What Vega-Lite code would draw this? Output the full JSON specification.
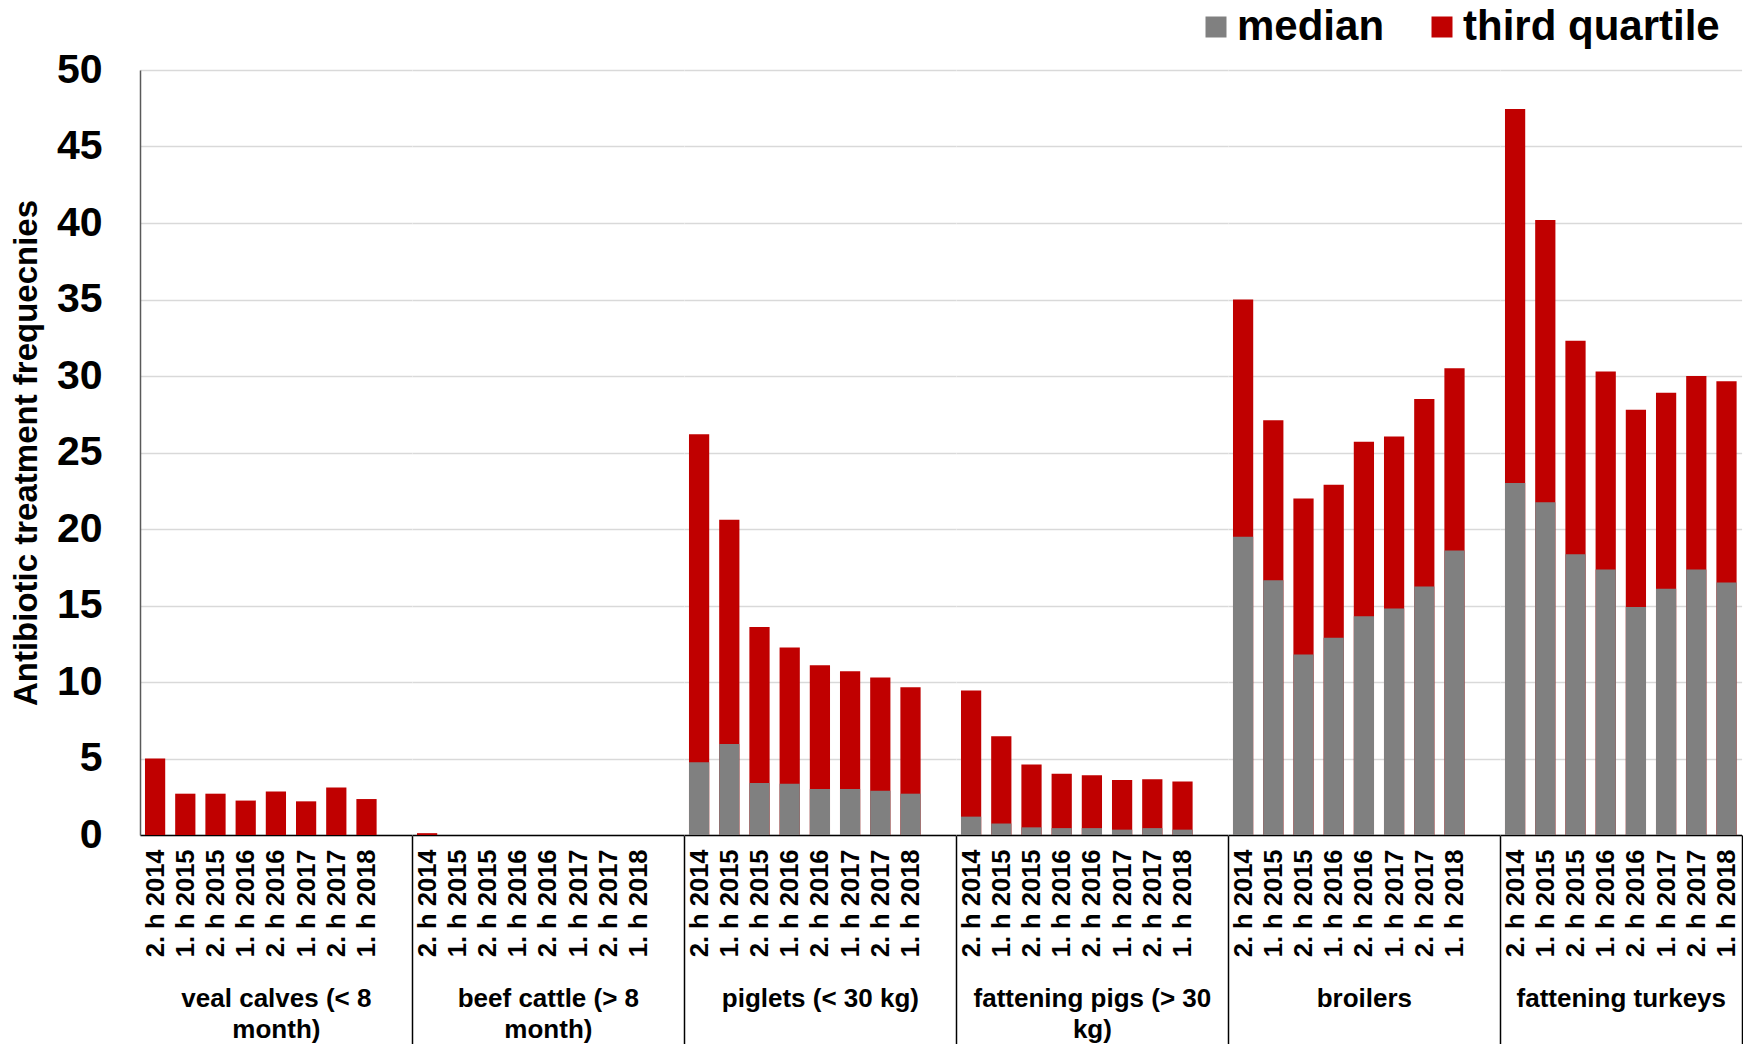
{
  "$schema": "https://vega.github.io/schema/vega-lite/v6.json",
  "background": "white",
  "padding": {"left": 10, "top": 6, "right": 0, "bottom": 0},
  "data": {"values": [
    {"group": "veal calves (< 8 month)", "period": "2. h 2014", "measure": "third quartile", "value": 5.0},
    {"group": "veal calves (< 8 month)", "period": "1. h 2015", "measure": "third quartile", "value": 2.7},
    {"group": "veal calves (< 8 month)", "period": "2. h 2015", "measure": "third quartile", "value": 2.7},
    {"group": "veal calves (< 8 month)", "period": "1. h 2016", "measure": "third quartile", "value": 2.25},
    {"group": "veal calves (< 8 month)", "period": "2. h 2016", "measure": "third quartile", "value": 2.85},
    {"group": "veal calves (< 8 month)", "period": "1. h 2017", "measure": "third quartile", "value": 2.2},
    {"group": "veal calves (< 8 month)", "period": "2. h 2017", "measure": "third quartile", "value": 3.1},
    {"group": "veal calves (< 8 month)", "period": "1. h 2018", "measure": "third quartile", "value": 2.35},
    {"group": "beef cattle (> 8 month)", "period": "2. h 2014", "measure": "third quartile", "value": 0.12},
    {"group": "beef cattle (> 8 month)", "period": "1. h 2015", "measure": "third quartile", "value": 0},
    {"group": "beef cattle (> 8 month)", "period": "2. h 2015", "measure": "third quartile", "value": 0},
    {"group": "beef cattle (> 8 month)", "period": "1. h 2016", "measure": "third quartile", "value": 0},
    {"group": "beef cattle (> 8 month)", "period": "2. h 2016", "measure": "third quartile", "value": 0},
    {"group": "beef cattle (> 8 month)", "period": "1. h 2017", "measure": "third quartile", "value": 0},
    {"group": "beef cattle (> 8 month)", "period": "2. h 2017", "measure": "third quartile", "value": 0},
    {"group": "beef cattle (> 8 month)", "period": "1. h 2018", "measure": "third quartile", "value": 0},
    {"group": "piglets (< 30 kg)", "period": "2. h 2014", "measure": "third quartile", "value": 26.2},
    {"group": "piglets (< 30 kg)", "period": "1. h 2015", "measure": "third quartile", "value": 20.6},
    {"group": "piglets (< 30 kg)", "period": "2. h 2015", "measure": "third quartile", "value": 13.6},
    {"group": "piglets (< 30 kg)", "period": "1. h 2016", "measure": "third quartile", "value": 12.25},
    {"group": "piglets (< 30 kg)", "period": "2. h 2016", "measure": "third quartile", "value": 11.1},
    {"group": "piglets (< 30 kg)", "period": "1. h 2017", "measure": "third quartile", "value": 10.7},
    {"group": "piglets (< 30 kg)", "period": "2. h 2017", "measure": "third quartile", "value": 10.3},
    {"group": "piglets (< 30 kg)", "period": "1. h 2018", "measure": "third quartile", "value": 9.65},
    {"group": "fattening pigs (> 30 kg)", "period": "2. h 2014", "measure": "third quartile", "value": 9.45},
    {"group": "fattening pigs (> 30 kg)", "period": "1. h 2015", "measure": "third quartile", "value": 6.45},
    {"group": "fattening pigs (> 30 kg)", "period": "2. h 2015", "measure": "third quartile", "value": 4.6},
    {"group": "fattening pigs (> 30 kg)", "period": "1. h 2016", "measure": "third quartile", "value": 4.0},
    {"group": "fattening pigs (> 30 kg)", "period": "2. h 2016", "measure": "third quartile", "value": 3.9},
    {"group": "fattening pigs (> 30 kg)", "period": "1. h 2017", "measure": "third quartile", "value": 3.6},
    {"group": "fattening pigs (> 30 kg)", "period": "2. h 2017", "measure": "third quartile", "value": 3.65},
    {"group": "fattening pigs (> 30 kg)", "period": "1. h 2018", "measure": "third quartile", "value": 3.5},
    {"group": "broilers", "period": "2. h 2014", "measure": "third quartile", "value": 35.0},
    {"group": "broilers", "period": "1. h 2015", "measure": "third quartile", "value": 27.1},
    {"group": "broilers", "period": "2. h 2015", "measure": "third quartile", "value": 22.0},
    {"group": "broilers", "period": "1. h 2016", "measure": "third quartile", "value": 22.9},
    {"group": "broilers", "period": "2. h 2016", "measure": "third quartile", "value": 25.7},
    {"group": "broilers", "period": "1. h 2017", "measure": "third quartile", "value": 26.05},
    {"group": "broilers", "period": "2. h 2017", "measure": "third quartile", "value": 28.5},
    {"group": "broilers", "period": "1. h 2018", "measure": "third quartile", "value": 30.5},
    {"group": "fattening turkeys", "period": "2. h 2014", "measure": "third quartile", "value": 47.45},
    {"group": "fattening turkeys", "period": "1. h 2015", "measure": "third quartile", "value": 40.2},
    {"group": "fattening turkeys", "period": "2. h 2015", "measure": "third quartile", "value": 32.3},
    {"group": "fattening turkeys", "period": "1. h 2016", "measure": "third quartile", "value": 30.3},
    {"group": "fattening turkeys", "period": "2. h 2016", "measure": "third quartile", "value": 27.8},
    {"group": "fattening turkeys", "period": "1. h 2017", "measure": "third quartile", "value": 28.9},
    {"group": "fattening turkeys", "period": "2. h 2017", "measure": "third quartile", "value": 30.0},
    {"group": "fattening turkeys", "period": "1. h 2018", "measure": "third quartile", "value": 29.65},
    {"group": "veal calves (< 8 month)", "period": "2. h 2014", "measure": "median", "value": 0},
    {"group": "veal calves (< 8 month)", "period": "1. h 2015", "measure": "median", "value": 0},
    {"group": "veal calves (< 8 month)", "period": "2. h 2015", "measure": "median", "value": 0},
    {"group": "veal calves (< 8 month)", "period": "1. h 2016", "measure": "median", "value": 0},
    {"group": "veal calves (< 8 month)", "period": "2. h 2016", "measure": "median", "value": 0},
    {"group": "veal calves (< 8 month)", "period": "1. h 2017", "measure": "median", "value": 0},
    {"group": "veal calves (< 8 month)", "period": "2. h 2017", "measure": "median", "value": 0},
    {"group": "veal calves (< 8 month)", "period": "1. h 2018", "measure": "median", "value": 0},
    {"group": "beef cattle (> 8 month)", "period": "2. h 2014", "measure": "median", "value": 0},
    {"group": "beef cattle (> 8 month)", "period": "1. h 2015", "measure": "median", "value": 0},
    {"group": "beef cattle (> 8 month)", "period": "2. h 2015", "measure": "median", "value": 0},
    {"group": "beef cattle (> 8 month)", "period": "1. h 2016", "measure": "median", "value": 0},
    {"group": "beef cattle (> 8 month)", "period": "2. h 2016", "measure": "median", "value": 0},
    {"group": "beef cattle (> 8 month)", "period": "1. h 2017", "measure": "median", "value": 0},
    {"group": "beef cattle (> 8 month)", "period": "2. h 2017", "measure": "median", "value": 0},
    {"group": "beef cattle (> 8 month)", "period": "1. h 2018", "measure": "median", "value": 0},
    {"group": "piglets (< 30 kg)", "period": "2. h 2014", "measure": "median", "value": 4.75},
    {"group": "piglets (< 30 kg)", "period": "1. h 2015", "measure": "median", "value": 5.95},
    {"group": "piglets (< 30 kg)", "period": "2. h 2015", "measure": "median", "value": 3.4},
    {"group": "piglets (< 30 kg)", "period": "1. h 2016", "measure": "median", "value": 3.35},
    {"group": "piglets (< 30 kg)", "period": "2. h 2016", "measure": "median", "value": 3.0},
    {"group": "piglets (< 30 kg)", "period": "1. h 2017", "measure": "median", "value": 3.0},
    {"group": "piglets (< 30 kg)", "period": "2. h 2017", "measure": "median", "value": 2.9},
    {"group": "piglets (< 30 kg)", "period": "1. h 2018", "measure": "median", "value": 2.7},
    {"group": "fattening pigs (> 30 kg)", "period": "2. h 2014", "measure": "median", "value": 1.2},
    {"group": "fattening pigs (> 30 kg)", "period": "1. h 2015", "measure": "median", "value": 0.75},
    {"group": "fattening pigs (> 30 kg)", "period": "2. h 2015", "measure": "median", "value": 0.5},
    {"group": "fattening pigs (> 30 kg)", "period": "1. h 2016", "measure": "median", "value": 0.45},
    {"group": "fattening pigs (> 30 kg)", "period": "2. h 2016", "measure": "median", "value": 0.45},
    {"group": "fattening pigs (> 30 kg)", "period": "1. h 2017", "measure": "median", "value": 0.35},
    {"group": "fattening pigs (> 30 kg)", "period": "2. h 2017", "measure": "median", "value": 0.45},
    {"group": "fattening pigs (> 30 kg)", "period": "1. h 2018", "measure": "median", "value": 0.35},
    {"group": "broilers", "period": "2. h 2014", "measure": "median", "value": 19.5},
    {"group": "broilers", "period": "1. h 2015", "measure": "median", "value": 16.65},
    {"group": "broilers", "period": "2. h 2015", "measure": "median", "value": 11.8},
    {"group": "broilers", "period": "1. h 2016", "measure": "median", "value": 12.9},
    {"group": "broilers", "period": "2. h 2016", "measure": "median", "value": 14.3},
    {"group": "broilers", "period": "1. h 2017", "measure": "median", "value": 14.8},
    {"group": "broilers", "period": "2. h 2017", "measure": "median", "value": 16.25},
    {"group": "broilers", "period": "1. h 2018", "measure": "median", "value": 18.6},
    {"group": "fattening turkeys", "period": "2. h 2014", "measure": "median", "value": 23.0},
    {"group": "fattening turkeys", "period": "1. h 2015", "measure": "median", "value": 21.75},
    {"group": "fattening turkeys", "period": "2. h 2015", "measure": "median", "value": 18.35},
    {"group": "fattening turkeys", "period": "1. h 2016", "measure": "median", "value": 17.35},
    {"group": "fattening turkeys", "period": "2. h 2016", "measure": "median", "value": 14.9},
    {"group": "fattening turkeys", "period": "1. h 2017", "measure": "median", "value": 16.1},
    {"group": "fattening turkeys", "period": "2. h 2017", "measure": "median", "value": 17.35},
    {"group": "fattening turkeys", "period": "1. h 2018", "measure": "median", "value": 16.5}
  ]},
  "spacing": 0,
  "bounds": "flush",
  "resolve": {"scale": {"x": "independent", "y": "shared", "color": "shared"}, "axis": {"x": "independent", "y": "independent"}},
  "hconcat": [
    {
      "width": 271.8, "height": 765,
      "transform": [{"filter": {"field": "group", "equal": "veal calves (< 8 month)"}}],
      "mark": {"type": "bar", "width": {"band": 0.67}},
      "encoding": {
        "x": {"field": "period", "type": "nominal", "title": ["veal calves (< 8", "month)"],
          "scale": {"domain": ["2. h 2014", "1. h 2015", "2. h 2015", "1. h 2016", "2. h 2016", "1. h 2017", "2. h 2017", "1. h 2018", " "], "paddingInner": 0, "paddingOuter": 0},
          "axis": {"tickOpacity": {"condition": {"test": "datum.index == 1", "value": 1}, "value": 0}}},
        "y": {"field": "value", "type": "quantitative", "stack": null, "title": "Antibiotic treatment frequecnies",
          "scale": {"domain": [0, 50], "nice": false},
          "axis": {"values": [0, 5, 10, 15, 20, 25, 30, 35, 40, 45, 50], "ticks": false, "labelPadding": 38,
            "labelFont": "Liberation Sans", "labelFontSize": 41, "labelFontWeight": "bold", "labelColor": "black",
            "domain": true, "domainColor": "#595959", "domainWidth": 1.5,
            "titleFont": "Liberation Sans", "titleFontSize": 33, "titleFontWeight": "bold", "titleColor": "black", "titlePadding": 13}},
        "color": {"field": "measure", "type": "nominal",
          "scale": {"domain": ["median", "third quartile"], "range": ["#808080", "#c00000"]},
          "legend": {"title": null, "orient": "none", "direction": "horizontal", "legendX": 1055, "legendY": -64,
            "labelFont": "Liberation Sans", "labelFontSize": 42, "labelFontWeight": "bold", "labelColor": "black",
            "labelOffset": 0, "labelLimit": 400, "symbolType": "square", "symbolSize": 441, "symbolStrokeWidth": 0, "columnPadding": 36}}
      }
    },
    {
      "width": 271.8, "height": 765,
      "transform": [{"filter": {"field": "group", "equal": "beef cattle (> 8 month)"}}],
      "mark": {"type": "bar", "width": {"band": 0.67}},
      "encoding": {
        "x": {"field": "period", "type": "nominal", "title": ["beef cattle (> 8", "month)"],
          "scale": {"domain": ["2. h 2014", "1. h 2015", "2. h 2015", "1. h 2016", "2. h 2016", "1. h 2017", "2. h 2017", "1. h 2018", " "], "paddingInner": 0, "paddingOuter": 0},
          "axis": {"tickOpacity": {"condition": {"test": "datum.index == 1", "value": 1}, "value": 0}}},
        "y": {"field": "value", "type": "quantitative", "stack": null, "title": null,
          "scale": {"domain": [0, 50], "nice": false},
          "axis": {"values": [0, 5, 10, 15, 20, 25, 30, 35, 40, 45, 50], "labels": false, "ticks": false, "domain": false, "minExtent": 0}},
        "color": {"field": "measure", "type": "nominal",
          "scale": {"domain": ["median", "third quartile"], "range": ["#808080", "#c00000"]},
          "legend": {"title": null, "orient": "none", "direction": "horizontal", "legendX": 1055, "legendY": -64,
            "labelFont": "Liberation Sans", "labelFontSize": 42, "labelFontWeight": "bold", "labelColor": "black",
            "labelOffset": 0, "labelLimit": 400, "symbolType": "square", "symbolSize": 441, "symbolStrokeWidth": 0, "columnPadding": 36}}
      }
    },
    {
      "width": 271.8, "height": 765,
      "transform": [{"filter": {"field": "group", "equal": "piglets (< 30 kg)"}}],
      "mark": {"type": "bar", "width": {"band": 0.67}},
      "encoding": {
        "x": {"field": "period", "type": "nominal", "title": "piglets (< 30 kg)",
          "scale": {"domain": ["2. h 2014", "1. h 2015", "2. h 2015", "1. h 2016", "2. h 2016", "1. h 2017", "2. h 2017", "1. h 2018", " "], "paddingInner": 0, "paddingOuter": 0},
          "axis": {"tickOpacity": {"condition": {"test": "datum.index == 1", "value": 1}, "value": 0}}},
        "y": {"field": "value", "type": "quantitative", "stack": null, "title": null,
          "scale": {"domain": [0, 50], "nice": false},
          "axis": {"values": [0, 5, 10, 15, 20, 25, 30, 35, 40, 45, 50], "labels": false, "ticks": false, "domain": false, "minExtent": 0}},
        "color": {"field": "measure", "type": "nominal",
          "scale": {"domain": ["median", "third quartile"], "range": ["#808080", "#c00000"]},
          "legend": {"title": null, "orient": "none", "direction": "horizontal", "legendX": 1055, "legendY": -64,
            "labelFont": "Liberation Sans", "labelFontSize": 42, "labelFontWeight": "bold", "labelColor": "black",
            "labelOffset": 0, "labelLimit": 400, "symbolType": "square", "symbolSize": 441, "symbolStrokeWidth": 0, "columnPadding": 36}}
      }
    },
    {
      "width": 271.8, "height": 765,
      "transform": [{"filter": {"field": "group", "equal": "fattening pigs (> 30 kg)"}}],
      "mark": {"type": "bar", "width": {"band": 0.67}},
      "encoding": {
        "x": {"field": "period", "type": "nominal", "title": ["fattening pigs (> 30", "kg)"],
          "scale": {"domain": ["2. h 2014", "1. h 2015", "2. h 2015", "1. h 2016", "2. h 2016", "1. h 2017", "2. h 2017", "1. h 2018", " "], "paddingInner": 0, "paddingOuter": 0},
          "axis": {"tickOpacity": {"condition": {"test": "datum.index == 1", "value": 1}, "value": 0}}},
        "y": {"field": "value", "type": "quantitative", "stack": null, "title": null,
          "scale": {"domain": [0, 50], "nice": false},
          "axis": {"values": [0, 5, 10, 15, 20, 25, 30, 35, 40, 45, 50], "labels": false, "ticks": false, "domain": false, "minExtent": 0}},
        "color": {"field": "measure", "type": "nominal",
          "scale": {"domain": ["median", "third quartile"], "range": ["#808080", "#c00000"]},
          "legend": {"title": null, "orient": "none", "direction": "horizontal", "legendX": 1055, "legendY": -64,
            "labelFont": "Liberation Sans", "labelFontSize": 42, "labelFontWeight": "bold", "labelColor": "black",
            "labelOffset": 0, "labelLimit": 400, "symbolType": "square", "symbolSize": 441, "symbolStrokeWidth": 0, "columnPadding": 36}}
      }
    },
    {
      "width": 271.8, "height": 765,
      "transform": [{"filter": {"field": "group", "equal": "broilers"}}],
      "mark": {"type": "bar", "width": {"band": 0.67}},
      "encoding": {
        "x": {"field": "period", "type": "nominal", "title": "broilers",
          "scale": {"domain": ["2. h 2014", "1. h 2015", "2. h 2015", "1. h 2016", "2. h 2016", "1. h 2017", "2. h 2017", "1. h 2018", " "], "paddingInner": 0, "paddingOuter": 0},
          "axis": {"tickOpacity": {"condition": {"test": "datum.index == 1", "value": 1}, "value": 0}}},
        "y": {"field": "value", "type": "quantitative", "stack": null, "title": null,
          "scale": {"domain": [0, 50], "nice": false},
          "axis": {"values": [0, 5, 10, 15, 20, 25, 30, 35, 40, 45, 50], "labels": false, "ticks": false, "domain": false, "minExtent": 0}},
        "color": {"field": "measure", "type": "nominal",
          "scale": {"domain": ["median", "third quartile"], "range": ["#808080", "#c00000"]},
          "legend": {"title": null, "orient": "none", "direction": "horizontal", "legendX": 1055, "legendY": -64,
            "labelFont": "Liberation Sans", "labelFontSize": 42, "labelFontWeight": "bold", "labelColor": "black",
            "labelOffset": 0, "labelLimit": 400, "symbolType": "square", "symbolSize": 441, "symbolStrokeWidth": 0, "columnPadding": 36}}
      }
    },
    {
      "width": 241.6, "height": 765,
      "transform": [{"filter": {"field": "group", "equal": "fattening turkeys"}}],
      "mark": {"type": "bar", "width": {"band": 0.67}},
      "encoding": {
        "x": {"field": "period", "type": "nominal", "title": "fattening turkeys",
          "scale": {"domain": ["2. h 2014", "1. h 2015", "2. h 2015", "1. h 2016", "2. h 2016", "1. h 2017", "2. h 2017", "1. h 2018"], "paddingInner": 0, "paddingOuter": 0},
          "axis": {"tickOpacity": {"condition": {"test": "datum.index == 1 || datum.index >= 0.87", "value": 1}, "value": 0}}},
        "y": {"field": "value", "type": "quantitative", "stack": null, "title": null,
          "scale": {"domain": [0, 50], "nice": false},
          "axis": {"values": [0, 5, 10, 15, 20, 25, 30, 35, 40, 45, 50], "labels": false, "ticks": false, "domain": false, "minExtent": 0}},
        "color": {"field": "measure", "type": "nominal",
          "scale": {"domain": ["median", "third quartile"], "range": ["#808080", "#c00000"]},
          "legend": {"title": null, "orient": "none", "direction": "horizontal", "legendX": 1055, "legendY": -64,
            "labelFont": "Liberation Sans", "labelFontSize": 42, "labelFontWeight": "bold", "labelColor": "black",
            "labelOffset": 0, "labelLimit": 400, "symbolType": "square", "symbolSize": 441, "symbolStrokeWidth": 0, "columnPadding": 36}}
      }
    }
  ],
  "config": {
    "view": {"stroke": null},
    "axisY": {"gridColor": "#d9d9d9", "gridWidth": 1.5, "grid": true},
    "axisX": {
      "labelAngle": 270,
      "labelFont": "Liberation Sans",
      "labelFontSize": 25.5,
      "labelFontWeight": "bold",
      "labelColor": "black",
      "labelBaseline": "middle",
      "labelPadding": -195,
      "domainColor": "black",
      "domainWidth": 1.5,
      "ticks": true,
      "tickBand": "extent",
      "tickSize": 209,
      "tickColor": "black",
      "tickWidth": 1.5,
      "grid": false,
      "titleFont": "Liberation Sans",
      "titleFontSize": 26,
      "titleFontWeight": "bold",
      "titleColor": "black",
      "titleLineHeight": 31,
      "titleBaseline": "top",
      "titlePadding": -50
    }
  }
}
